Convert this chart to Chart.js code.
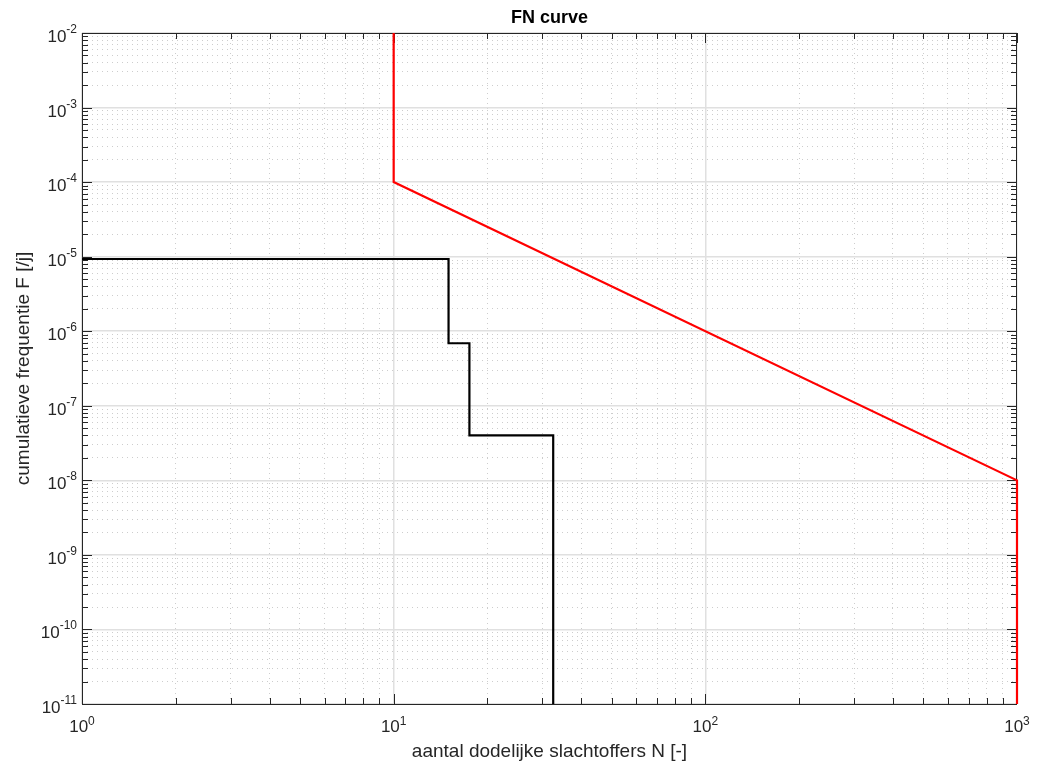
<!DOCTYPE html>
<html>
<head>
<meta charset="utf-8">
<title>FN curve</title>
<script src="https://cdn.jsdelivr.net/npm/chart.js@4.4.1/dist/chart.umd.min.js"></script>
<style>
  html, body { margin: 0; padding: 0; background: #fff; }
  #wrap { width: 1038px; height: 766px; }
</style>
</head>
<body>
<div id="wrap"><canvas id="fnChart"></canvas></div>
<script>
// Norm line (red) and computed FN curve (black)
const normN = [10, 10, 1000, 1000];
const normF = [1e-2, 1e-4, 1e-8, 1e-11];
const riskN = [1, 15, 17.5, 32.5];
const riskF = [9.3e-6, 6.9e-7, 4.0e-8, 1e-11];

// Axis decades (tick labels are 10^exp)
const xDecades = [0, 1, 2, 3];
const yDecades = [-11, -10, -9, -8, -7, -6, -5, -4, -3, -2];
const minorSteps = [2, 3, 4, 5, 6, 7, 8, 9];

const titleText = "FN curve";
const xLabel = "aantal dodelijke slachtoffers N [-]";
const yLabel = "cumulatieve frequentie F [/j]";

const axisColor = "#262626";
const majorGrid = "#e0e0e0";
const minorGrid = "#cdcdcd";

// decade + minor tick list for a log axis
function logTicks(decades) {
    const list = [];
    decades.forEach((d, i) => {
        list.push({ value: Math.pow(10, d), major: true, exp: d });
        if (i < decades.length - 1) {
            minorSteps.forEach(m => list.push({ value: m * Math.pow(10, d), major: false }));
        }
    });
    return list;
}

function toPoints(xs, ys) {
    return xs.map((x, i) => ({ x: x, y: ys[i] }));
}

const gridOpts = {
    drawTicks: false,
    color: ctx => (ctx.tick && ctx.tick.major) ? majorGrid : minorGrid,
    lineWidth: ctx => (ctx.tick && ctx.tick.major) ? 1.5 : 1
};
const borderOpts = {
    display: false,
    dash: ctx => (ctx.tick && !ctx.tick.major) ? [1, 4] : []
};

// frame, inward tick marks and the 10^n labels
const axesDecor = {
    id: "axesDecor",
    beforeDatasetsDraw(chart) {
        const { ctx, chartArea: a, scales } = chart;
        ctx.save();
        ctx.strokeStyle = axisColor;
        ctx.lineWidth = 1;
        ctx.beginPath();
        scales.x.ticks.forEach(t => {
            const px = Math.round(scales.x.getPixelForValue(t.value)) + 0.5;
            const len = t.major ? 10 : 6;
            ctx.moveTo(px, a.bottom); ctx.lineTo(px, a.bottom - len);
            ctx.moveTo(px, a.top); ctx.lineTo(px, a.top + len);
        });
        scales.y.ticks.forEach(t => {
            const py = Math.round(scales.y.getPixelForValue(t.value)) + 0.5;
            const len = t.major ? 10 : 6;
            ctx.moveTo(a.left, py); ctx.lineTo(a.left + len, py);
            ctx.moveTo(a.right, py); ctx.lineTo(a.right - len, py);
        });
        ctx.stroke();
        ctx.strokeRect(Math.round(a.left) + 0.5, Math.round(a.top) + 0.5,
            Math.round(a.width) - 1, Math.round(a.height));
        ctx.restore();
    },
    afterDraw(chart) {
        const { ctx, chartArea: a, scales } = chart;
        const baseFont = "17px 'Liberation Sans', Arial, sans-serif";
        const expFont = "12px 'Liberation Sans', Arial, sans-serif";
        ctx.save();
        ctx.fillStyle = axisColor;
        ctx.textBaseline = "alphabetic";
        ctx.textAlign = "left";

        scales.x.ticks.filter(t => t.major).forEach(t => {
            const px = scales.x.getPixelForValue(t.value);
            ctx.font = baseFont;
            const w10 = ctx.measureText("10").width;
            ctx.font = expFont;
            const we = ctx.measureText(String(t.exp)).width;
            const start = px - (w10 + we) / 2;
            ctx.font = baseFont;
            ctx.fillText("10", start, a.bottom + 28);
            ctx.font = expFont;
            ctx.fillText(String(t.exp), start + w10, a.bottom + 21);
        });

        scales.y.ticks.filter(t => t.major).forEach(t => {
            const py = scales.y.getPixelForValue(t.value);
            ctx.font = baseFont;
            const w10 = ctx.measureText("10").width;
            ctx.font = expFont;
            const we = ctx.measureText(String(t.exp)).width;
            const start = a.left - 5 - (w10 + we);
            ctx.font = baseFont;
            ctx.fillText("10", start, py + 9);
            ctx.font = expFont;
            ctx.fillText(String(t.exp), start + w10, py);
        });

        const midX = (a.left + a.right) / 2;
        const midY = (a.top + a.bottom) / 2;
        ctx.textAlign = "center";

        ctx.fillStyle = "#000";
        ctx.font = "bold 18px 'Liberation Sans', Arial, sans-serif";
        ctx.fillText(titleText, midX, 23);

        ctx.fillStyle = axisColor;
        ctx.font = "19px 'Liberation Sans', Arial, sans-serif";
        ctx.fillText(xLabel, midX, 757);

        ctx.translate(29, midY);
        ctx.rotate(-Math.PI / 2);
        ctx.fillText(yLabel, 0, 0);
        ctx.restore();
    }
};

new Chart(document.getElementById("fnChart"), {
    type: "line",
    data: {
        datasets: [
            {
                label: "norm",
                data: toPoints(normN, normF),
                borderColor: "#ff0000",
                borderWidth: 2.2,
                pointRadius: 0,
                tension: 0,
                clip: false
            },
            {
                label: "FN curve",
                data: toPoints(riskN, riskF),
                borderColor: "#000000",
                borderWidth: 2.2,
                pointRadius: 0,
                stepped: "before",
                clip: false
            }
        ]
    },
    options: {
        responsive: true,
        maintainAspectRatio: false,
        animation: false,
        layout: { padding: { left: 82, top: 33, right: 21, bottom: 62 } },
        plugins: {
            legend: { display: false },
            tooltip: { enabled: false }
        },
        scales: {
            x: {
                type: "logarithmic",
                min: 1,
                max: 1000,
                afterBuildTicks: scale => { scale.ticks = logTicks(xDecades); },
                ticks: { display: false, autoSkip: false },
                grid: gridOpts,
                border: borderOpts
            },
            y: {
                type: "logarithmic",
                min: 1e-11,
                max: 1e-2,
                afterBuildTicks: scale => { scale.ticks = logTicks(yDecades); },
                ticks: { display: false, autoSkip: false },
                grid: gridOpts,
                border: borderOpts
            }
        }
    },
    plugins: [axesDecor]
});
</script>
</body>
</html>
